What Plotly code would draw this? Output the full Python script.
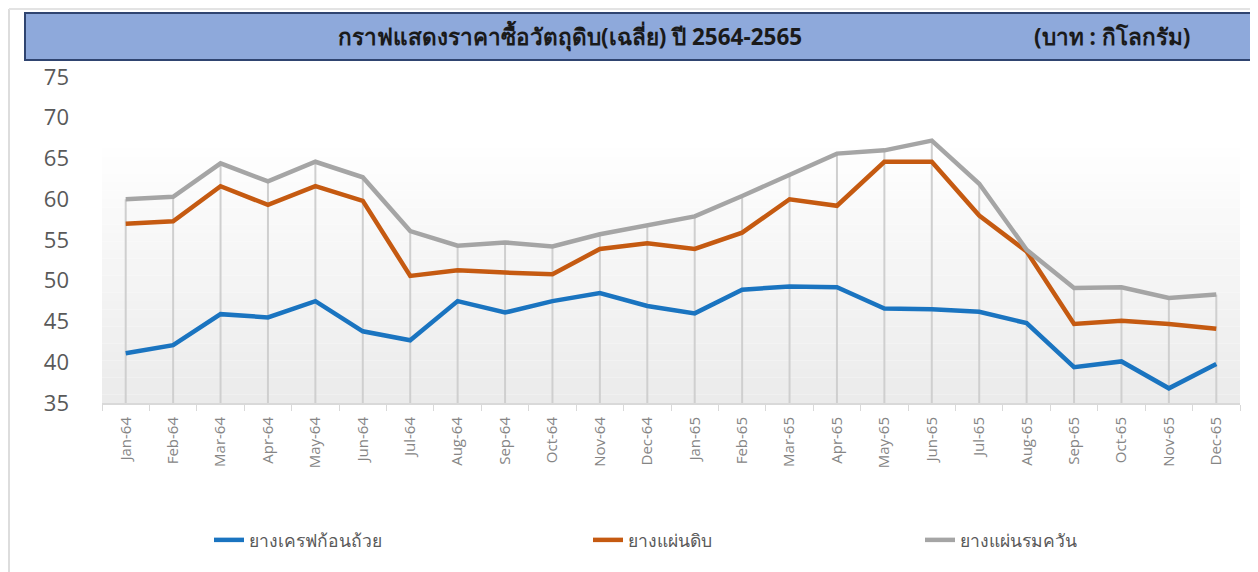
import plotly.graph_objects as go

months = ["Jan-64", "Feb-64", "Mar-64", "Apr-64", "May-64", "Jun-64",
          "Jul-64", "Aug-64", "Sep-64", "Oct-64", "Nov-64", "Dec-64",
          "Jan-65", "Feb-65", "Mar-65", "Apr-65", "May-65", "Jun-65",
          "Jul-65", "Aug-65", "Sep-65", "Oct-65", "Nov-65", "Dec-65"]

crepe_cup = [41.1, 42.1, 45.9, 45.5, 47.5, 43.8, 42.7, 47.5, 46.1, 47.5, 48.5, 46.9,
             46.0, 48.9, 49.3, 49.2, 46.6, 46.5, 46.2, 44.8, 39.4, 40.1, 36.8, 39.8]
raw_sheet = [57.0, 57.3, 61.6, 59.3, 61.6, 59.8, 50.6, 51.3, 51.0, 50.8, 53.9, 54.6,
             53.9, 55.9, 60.0, 59.2, 64.6, 64.6, 58.0, 53.6, 44.7, 45.1, 44.7, 44.1]
smoked_sheet = [60.0, 60.3, 64.4, 62.2, 64.6, 62.7, 56.1, 54.3, 54.7, 54.2, 55.7, 56.8,
                57.9, 60.4, 63.0, 65.6, 66.0, 67.2, 61.9, 53.8, 49.1, 49.2, 47.9, 48.3]

names = ["ยางเครฟก้อนถ้วย", "ยางแผ่นดิบ", "ยางแผ่นรมควัน"]
colors = ["#1A74C0", "#C55A11", "#A5A5A5"]
title_text = "กราฟแสดงราคาซื้อวัตถุดิบ(เฉลี่ย) ปี 2564-2565"
unit_text = "(บาท : กิโลกรัม)"
y_ticks = [35, 40, 45, 50, 55, 60, 65, 70, 75]

OFF = 8  # page body margin
W, H = 1258 - OFF, 572 - OFF
L, T = 102 - OFF, 77 - OFF
R = W - (1240 - OFF)
B = H - (403 - OFF)
pw, ph = W - L - R, H - T - B


def px(x):
    return (x - OFF - L) / pw


def py(y):
    return (H - B - (y - OFF)) / ph


fig = go.Figure()

# drop lines from axis to highest series
dx, dy = [], []
for m, v in zip(months, smoked_sheet):
    dx += [m, m, None]
    dy += [35, v, None]
fig.add_trace(go.Scatter(x=dx, y=dy, mode="lines", line=dict(color="#CFCFCF", width=2),
                         showlegend=False, hoverinfo="skip"))

series = [crepe_cup, raw_sheet, smoked_sheet]
legend_ids = ["legend", "legend2", "legend3"]
for s, n, c, lg in zip(series, names, colors, legend_ids):
    fig.add_trace(go.Scatter(x=months, y=s, mode="lines", name=n,
                             line=dict(color=c, width=4.5), legend=lg))

# gradient plot background
shapes = []
nb = 30
top_v = 66.3
for i in range(nb):
    y0 = 35 + (top_v - 35) * i / nb
    y1 = 35 + (top_v - 35) * (i + 1) / nb
    t = i / (nb - 1)
    g = int(round(235 + (254 - 235) * t))
    shapes.append(dict(type="rect", xref="paper", yref="y", x0=0, x1=1, y0=y0, y1=y1,
                       fillcolor=f"rgb({g},{g},{g})", line=dict(width=0), layer="below"))
# outer frame lines
shapes.append(dict(type="line", xref="paper", yref="paper", x0=px(9), x1=px(9),
                   y0=py(572), y1=py(9), line=dict(color="#DDDDDD", width=2)))
shapes.append(dict(type="line", xref="paper", yref="paper", x0=px(9), x1=px(1258),
                   y0=py(9), y1=py(9), line=dict(color="#E3E3E3", width=2)))
# title bar
shapes.append(dict(type="rect", xref="paper", yref="paper", x0=px(25), x1=px(1256),
                   y0=py(60), y1=py(13), fillcolor="#8EA9DB",
                   line=dict(color="#2F4470", width=2)))

annotations = [
    dict(text=f"<b>{title_text}</b>", xref="paper", yref="paper", x=px(570), y=py(36),
         showarrow=False, font=dict(size=22.5, color="#1A1A1A"), xanchor="center", yanchor="middle"),
    dict(text=f"<b>{unit_text}</b>", xref="paper", yref="paper", x=px(1112), y=py(36),
         showarrow=False, font=dict(size=22.5, color="#1A1A1A"), xanchor="center", yanchor="middle"),
]

leg_common = dict(orientation="h", yanchor="middle", xanchor="left", y=py(540),
                  bgcolor="rgba(0,0,0,0)", font=dict(size=17.5, color="#595959"))

fig.update_layout(
    width=W, height=H,
    margin=dict(l=L, r=R, t=T, b=B),
    paper_bgcolor="white", plot_bgcolor="white",
    font=dict(family="Noto Sans, Open Sans, sans-serif", color="#595959"),
    shapes=shapes, annotations=annotations,
    legend=dict(x=px(209), **leg_common),
    legend2=dict(x=px(588), **leg_common),
    legend3=dict(x=px(920), **leg_common),
    xaxis=dict(type="category", categoryorder="array", categoryarray=months,
               range=[-0.5, len(months) - 0.5],
               showgrid=False, showline=True, linecolor="#D9D9D9", linewidth=2,
               ticks="outside", tickson="boundaries", ticklen=6, tickcolor="#D9D9D9",
               tickangle=-90, tickfont=dict(size=15, color="#858585", family="Open Sans"),
               ticklabelstandoff=6, zeroline=False),
    yaxis=dict(range=[35, 75], tickvals=y_ticks, showgrid=False, showline=False,
               zeroline=False, ticks="", tickfont=dict(size=22, color="#595959", family="Open Sans"),
               ticklabelstandoff=32),
    showlegend=True,
)

fig.write_html("out.html")
